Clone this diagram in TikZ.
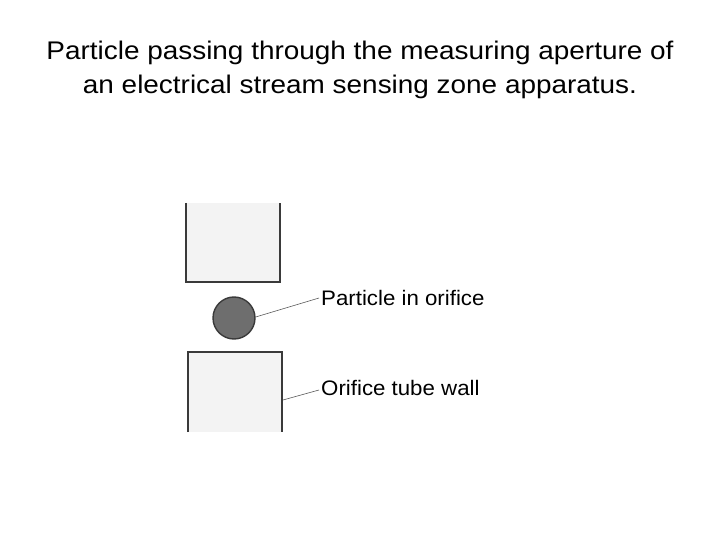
\documentclass[tikz,border=0pt]{standalone}
\usepackage{fontspec}
\setmainfont{Liberation Sans}
\definecolor{wallfill}{HTML}{F3F3F3}
\definecolor{wallline}{HTML}{3A3A3A}
\definecolor{partfill}{HTML}{6E6E6E}
\begin{document}
\begin{tikzpicture}[x=1pt,y=-1pt,
  wall/.style={draw=wallline,line width=1.6pt},
  leader/.style={draw=gray!70!black,line width=0.6pt},
  lbl/.style={anchor=base west,inner sep=0pt,font=\fontsize{21}{24}\selectfont},
  title/.style={anchor=base,inner sep=0pt,font=\fontsize{25.5}{30}\selectfont}]
\useasboundingbox (0,0) rectangle (720,540);
\node[title] (t1) at (360,60) {\scalebox{1.095}[1]{Particle passing through the measuring aperture of}};
\node[title] (t2) at (360,94) {\scalebox{1.095}[1]{an electrical stream sensing zone apparatus.}};
% top wall (open at top)
\fill[wallfill] (186,203) rectangle (280,282);
\draw[wall] (186,203) -- (186,282) -- (280,282) -- (280,203);
% bottom wall (open at bottom)
\fill[wallfill] (188,352) rectangle (282,432);
\draw[wall] (188,432) -- (188,352) -- (282,352) -- (282,432);
\coordinate (bw) at (283,400);
% particle
\node[circle,draw=wallline,line width=1.4pt,fill=partfill,minimum size=42pt,inner sep=0pt] (p) at (234,318) {};
\node[lbl] (lp) at (321,305) {\scalebox{1.06}[1]{Particle in orifice}};
\node[lbl] (lw) at (321,395) {\scalebox{1.06}[1]{Orifice tube wall}};
\coordinate (lpa) at (319,298);
\coordinate (lwa) at (319,390);
\draw[leader] (p.east) ++(0,-1) -- (lpa);
\draw[leader] (bw) -- (lwa);
\end{tikzpicture}
\end{document}
